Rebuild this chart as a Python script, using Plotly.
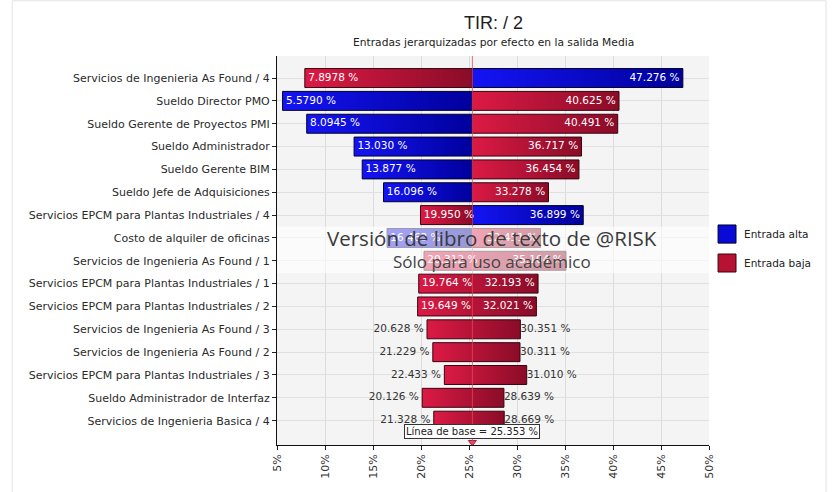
import plotly.graph_objects as go

# Tornado data: output mean (TIR) when each input is at its low / high end
categories = [
    "Servicios de Ingenieria As Found / 4",
    "Sueldo Director PMO",
    "Sueldo Gerente de Proyectos PMI",
    "Sueldo Administrador",
    "Sueldo Gerente BIM",
    "Sueldo Jefe de Adquisiciones",
    "Servicios EPCM para Plantas Industriales / 4",
    "Costo de alquiler de oficinas",
    "Servicios de Ingenieria As Found / 1",
    "Servicios EPCM para Plantas Industriales / 1",
    "Servicios EPCM para Plantas Industriales / 2",
    "Servicios de Ingenieria As Found / 3",
    "Servicios de Ingenieria As Found / 2",
    "Servicios EPCM para Plantas Industriales / 3",
    "Sueldo Administrador de Interfaz",
    "Servicios de Ingenieria Basica / 4",
]
low_values = [7.8978, 5.5790, 8.0945, 13.030, 13.877, 16.096, 19.950, 16.463,
              20.312, 19.764, 19.649, 20.628, 21.229, 22.433, 20.126, 21.328]
high_values = [47.276, 40.625, 40.491, 36.717, 36.454, 33.278, 36.899, 32.451,
               35.104, 32.193, 32.021, 30.351, 30.311, 31.010, 28.639, 28.669]
# which input level produced the low / high end of each bar
low_side_input = ["baja", "alta", "alta", "alta", "alta", "alta", "baja", "alta",
                  "baja", "baja", "baja", "baja", "baja", "baja", "baja", "baja"]
high_side_input = ["alta", "baja", "baja", "baja", "baja", "baja", "alta", "baja",
                   "baja", "baja", "baja", "baja", "baja", "baja", "baja", "baja"]
baseline = 25.353
x_ticks = [5, 10, 15, 20, 25, 30, 35, 40, 45, 50]

STYLE = {
    "alta": {"bright": "#1414f4", "dark": "#00009c", "edge": "#000028"},
    "baja": {"bright": "#dc1a44", "dark": "#8a0c28", "edge": "#38040f"},
}
HALF = 0.415
FONT = "DejaVu Sans"

fig = go.Figure()


def add_segment(a, b, row, level):
    st = STYLE[level]
    fig.add_trace(go.Scatter(
        x=[a, b, b, a, a],
        y=[row - HALF, row - HALF, row + HALF, row + HALF, row - HALF],
        mode="lines", fill="toself",
        fillgradient=dict(type="horizontal",
                          colorscale=[[0, st["bright"]], [1, st["dark"]]]),
        line=dict(color=st["edge"], width=1),
        hoverinfo="skip", showlegend=False,
    ))


for i, (lo, hi) in enumerate(zip(low_values, high_values)):
    if low_side_input[i] == high_side_input[i]:
        add_segment(lo, hi, i, low_side_input[i])
    else:
        add_segment(lo, baseline, i, low_side_input[i])
        add_segment(baseline, hi, i, high_side_input[i])

# value labels: inside wide bars (white), outside narrow ones (grey)
in_x, in_y, in_t, in_p = [], [], [], []
out_x, out_y, out_t, out_p = [], [], [], []
for i, (lo, hi) in enumerate(zip(low_values, high_values)):
    lo_txt, hi_txt = f"{lo:#.5g} %", f"{hi:#.5g} %"
    if hi - lo > 11:
        in_x += [lo, hi]; in_y += [i, i]
        in_t += ["\u00a0" + lo_txt, hi_txt + "\u00a0"]
        in_p += ["middle right", "middle left"]
    else:
        out_x += [lo, hi]; out_y += [i, i]
        out_t += [lo_txt + "\u00a0", hi_txt]
        out_p += ["middle left", "middle right"]

fig.add_trace(go.Scatter(x=in_x, y=in_y, text=in_t, mode="text", textposition=in_p,
                         textfont=dict(family=FONT, size=10.5, color="white"),
                         hoverinfo="skip", showlegend=False))
fig.add_trace(go.Scatter(x=out_x, y=out_y, text=out_t, mode="text", textposition=out_p,
                         textfont=dict(family=FONT, size=10.5, color="#333333"),
                         hoverinfo="skip", showlegend=False))

n = len(categories)
y_range = [n - 1 + 1.065, -0.965]

# baseline marker on the axis
fig.add_trace(go.Scatter(x=[baseline], y=[y_range[0] - 0.12], mode="markers",
                         marker=dict(symbol="triangle-down", size=7, color="#e0506e",
                                     line=dict(color="#a02040", width=1)),
                         cliponaxis=False, hoverinfo="skip", showlegend=False))

shapes = [
    # baseline
    dict(type="line", xref="x", yref="paper", x0=baseline, x1=baseline, y0=0, y1=1,
         line=dict(color="rgba(225,70,95,0.8)", width=1), layer="above"),
    # translucent band behind the edition notice
    dict(type="rect", xref="paper", yref="y", x0=0, x1=1, y0=6.5, y1=8.55,
         fillcolor="rgba(255,255,255,0.6)", line=dict(width=0), layer="above"),
    # outer frame
    dict(type="rect", xref="paper", yref="paper", x0=-0.613, x1=1.271, y0=-0.2, y1=1.142,
         line=dict(color="#e4e4e4", width=1), layer="below"),
    # legend swatches
    dict(type="rect", xref="paper", yref="paper", x0=1.021, x1=1.0625, y0=0.519, y1=0.5656,
         fillcolor="#0a0ad8", line=dict(color="#000028", width=1)),
    dict(type="rect", xref="paper", yref="paper", x0=1.021, x1=1.0625, y0=0.4447, y1=0.491,
         fillcolor="#b81233", line=dict(color="#38040f", width=1)),
]

annotations = [
    dict(text="TIR: / 2", xref="paper", yref="paper", x=0.5, y=1.0 + 33 / 389,
         yanchor="middle", showarrow=False,
         font=dict(family="Liberation Sans", size=18, color="#222222")),
    dict(text="Entradas jerarquizadas por efecto en la salida Media", xref="paper",
         yref="paper", x=0.5, y=1.0 + 14 / 389, yanchor="middle", showarrow=False,
         font=dict(family=FONT, size=10.7, color="#222222")),
    dict(text="Versión de libro de texto de @RISK", xref="paper", yref="paper",
         x=0.497, y=(445 - 238) / 389, yanchor="middle", showarrow=False,
         font=dict(family="Open Sans", size=20.5, color="#3a3a3a")),
    dict(text="Sólo para uso académico", xref="paper", yref="paper",
         x=0.497, y=(445 - 261) / 389, yanchor="middle", showarrow=False,
         font=dict(family="Open Sans", size=17, color="#444444")),
    dict(text=f"Línea de base = {baseline:.3f} %", xref="x", yref="paper",
         x=baseline, y=(445 - 431) / 389, yanchor="middle", showarrow=False,
         bgcolor="white", bordercolor="#333333", borderwidth=1, borderpad=1,
         font=dict(family=FONT, size=10, color="#222222")),
    dict(text="Entrada alta", xref="paper", yref="paper", x=1.0764, y=0.5424,
         xanchor="left", yanchor="middle", showarrow=False,
         font=dict(family=FONT, size=10.5, color="#222222")),
    dict(text="Entrada baja", xref="paper", yref="paper", x=1.0764, y=0.4679,
         xanchor="left", yanchor="middle", showarrow=False,
         font=dict(family=FONT, size=10.5, color="#222222")),
]

fig.update_layout(
    width=832, height=492,
    margin=dict(l=277, r=123, t=56, b=47),
    paper_bgcolor="white", plot_bgcolor="#f4f4f4",
    showlegend=False,
    shapes=shapes, annotations=annotations,
    xaxis=dict(range=[5, 50], tickvals=x_ticks, ticktext=[f"{v}%" for v in x_ticks],
               tickangle=-90, ticks="outside", ticklen=4, tickcolor="#222",
               showline=True, linecolor="#111", linewidth=1,
               showgrid=True, gridcolor="#dcdcdc", zeroline=False,
               tickfont=dict(family=FONT, size=11, color="#333333")),
    yaxis=dict(range=y_range, tickvals=list(range(n)), ticktext=categories,
               ticks="outside", ticklen=4, tickcolor="#222",
               showline=True, linecolor="#111", linewidth=1,
               showgrid=True, gridcolor="#e0e0e0", zeroline=False,
               tickfont=dict(family=FONT, size=11, color="#2a2a2a")),
)

fig.write_html("out.html")
